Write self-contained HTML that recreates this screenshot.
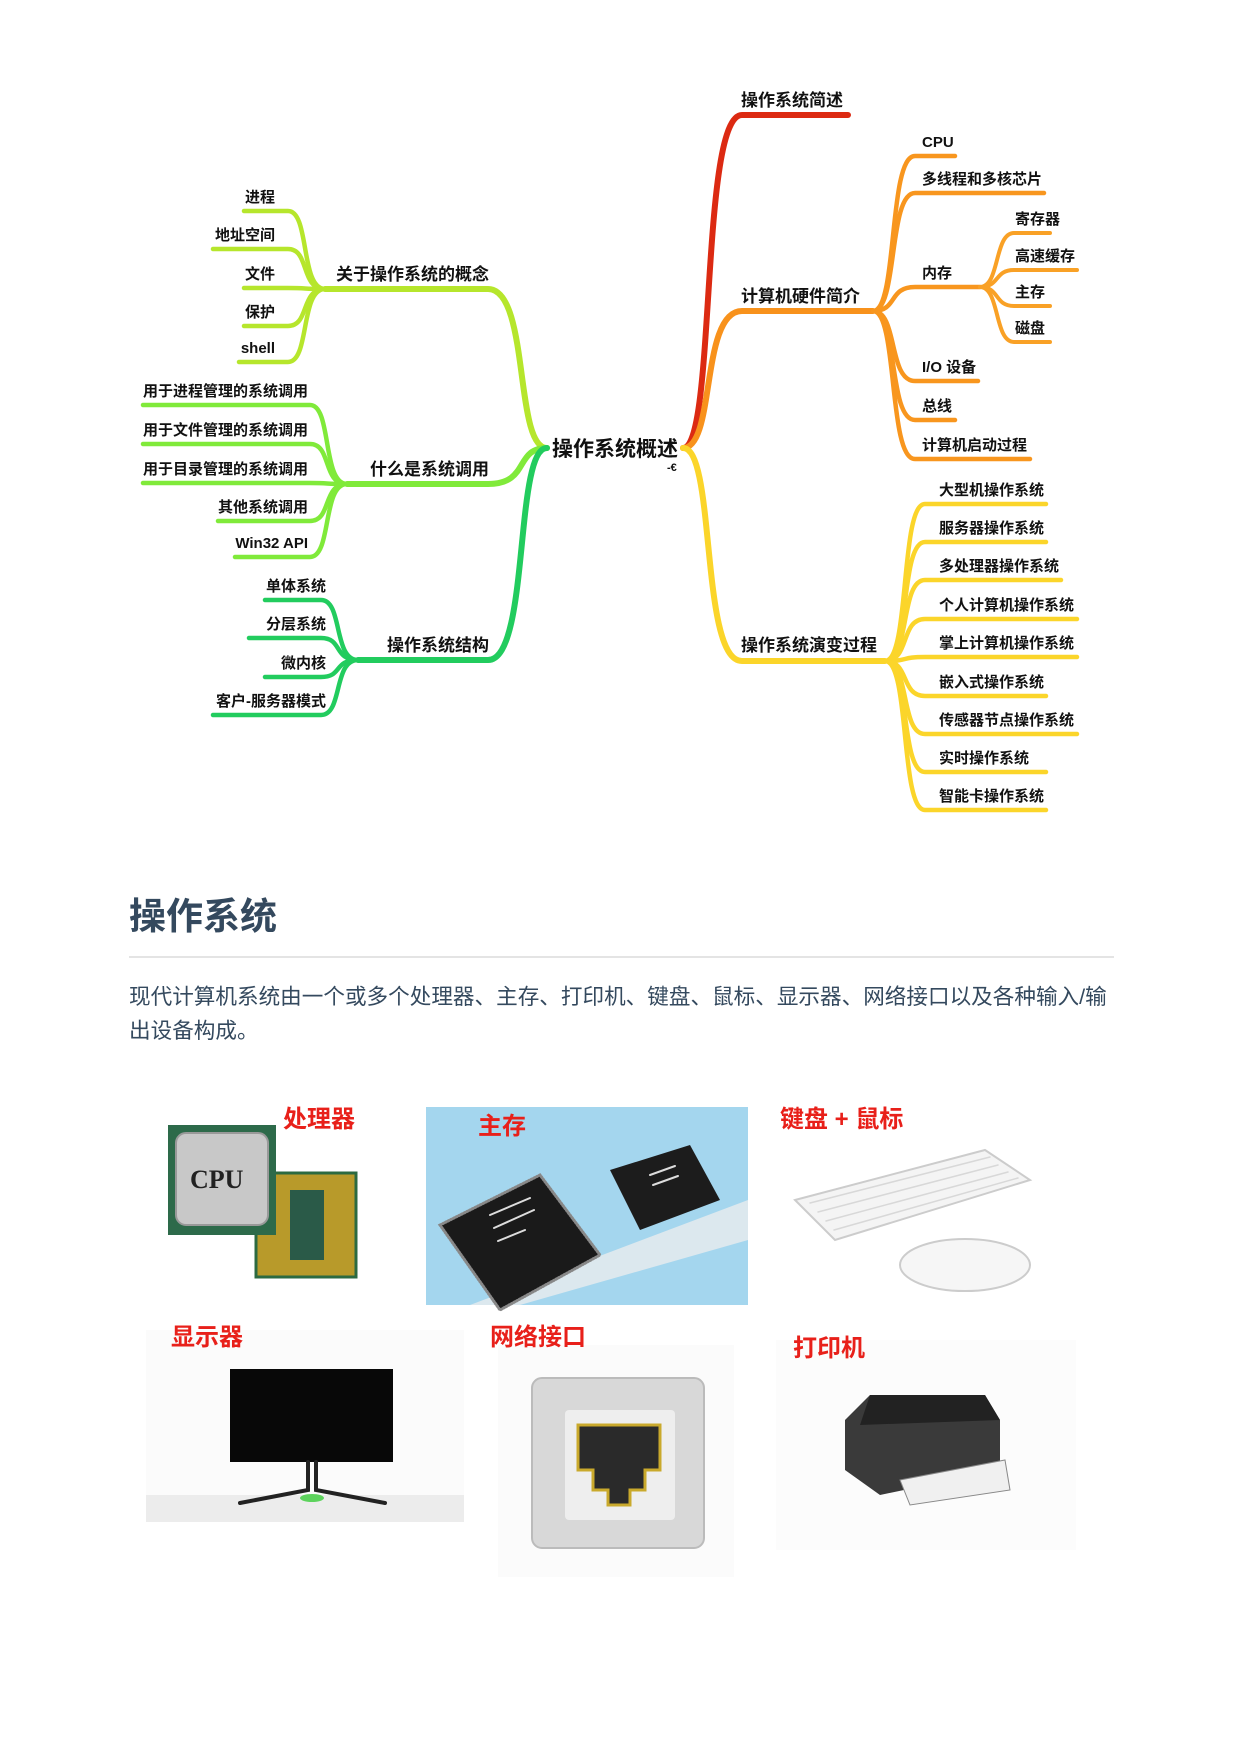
<!DOCTYPE html>
<html><head><meta charset="utf-8">
<style>
html,body{margin:0;padding:0;background:#fff;}
body{width:1240px;height:1754px;position:relative;overflow:hidden;font-family:"Liberation Sans","Noto Sans CJK SC",sans-serif;}
svg{position:absolute;left:0;top:0;}
.t{font-family:"Liberation Sans","Noto Sans CJK SC",sans-serif;font-weight:bold;fill:#111;font-size:15px;}
.m{font-size:17px;}
.r{font-family:"Liberation Sans","Noto Sans CJK SC",sans-serif;font-weight:bold;fill:#e8201a;font-size:24px;}
h1{position:absolute;left:129px;top:886px;margin:0;font-size:37px;font-weight:bold;color:#34495e;font-family:"Liberation Sans","Noto Sans CJK SC",sans-serif;}
.hr{position:absolute;left:129px;top:956px;width:985px;height:2px;background:#e4e4e4;}
p{position:absolute;left:129px;top:980px;width:990px;margin:0;font-size:21.6px;line-height:34px;color:#34495e;font-family:"Liberation Sans","Noto Sans CJK SC",sans-serif;}
</style></head><body>
<svg width="1240" height="1754" viewBox="0 0 1240 1754" fill="none" stroke-linecap="round">
<g stroke-width="6">
<path d="M683 448 C716 448 700 115 742 115 H848" stroke="#dc2a12"/>
<path d="M683 448 C716 448 700 311 742 311 H873" stroke="#f8921c"/>
<path d="M683 448 C716 448 700 661 742 661 H885" stroke="#fbd52a"/>
<path d="M547 448 C514 448 530 289 488 289 H325" stroke="#b6e62c"/>
<path d="M547 448 C514 448 530 484 488 484 H347" stroke="#80ea3a"/>
<path d="M547 448 C514 448 530 660 488 660 H358" stroke="#22cc5e"/>
</g>
<g stroke="#f8961e" stroke-width="4.5">
<path d="M873 311 C898 311 888 156 915 156 H955"/>
<path d="M873 311 C898 311 888 193 915 193 H1044"/>
<path d="M873 311 C898 311 888 287 915 287 H980"/>
<path d="M873 311 C898 311 888 381 915 381 H978"/>
<path d="M873 311 C898 311 888 420 915 420 H955"/>
<path d="M873 311 C898 311 888 459 915 459 H1030"/>
</g>
<g stroke="#f9a126" stroke-width="4">
<path d="M980 287 C1000 287 994 233 1014 233 H1050"/>
<path d="M980 287 C1000 287 994 270 1014 270 H1077"/>
<path d="M980 287 C1000 287 994 306 1014 306 H1050"/>
<path d="M980 287 C1000 287 994 342 1014 342 H1050"/>
</g>
<g stroke="#fbd52a" stroke-width="4.5">
<path d="M885 661 C910 661 900 504 925 504 H1046"/>
<path d="M885 661 C910 661 900 542 925 542 H1046"/>
<path d="M885 661 C910 661 900 580 925 580 H1061"/>
<path d="M885 661 C910 661 900 619 925 619 H1077"/>
<path d="M885 661 C910 661 900 657 925 657 H1077"/>
<path d="M885 661 C910 661 900 696 925 696 H1046"/>
<path d="M885 661 C910 661 900 734 925 734 H1077"/>
<path d="M885 661 C910 661 900 772 925 772 H1046"/>
<path d="M885 661 C910 661 900 810 925 810 H1046"/>
</g>
<g stroke="#b6e62c" stroke-width="4.5">
<path d="M325 289 C300 289 310 211 288 211 H244"/>
<path d="M325 289 C300 289 310 249 288 249 H213"/>
<path d="M325 289 C300 289 310 288 288 288 H244"/>
<path d="M325 289 C300 289 310 326 288 326 H244"/>
<path d="M325 289 C300 289 310 362 288 362 H239"/>
</g>
<g stroke="#80ea3a" stroke-width="4.5">
<path d="M347 484 C322 484 332 405 310 405 H143"/>
<path d="M347 484 C322 484 332 444 310 444 H143"/>
<path d="M347 484 C322 484 332 483 310 483 H143"/>
<path d="M347 484 C322 484 332 521 310 521 H218"/>
<path d="M347 484 C322 484 332 557 310 557 H235"/>
</g>
<g stroke="#22cc5e" stroke-width="4.5">
<path d="M358 660 C333 660 343 600 321 600 H265"/>
<path d="M358 660 C333 660 343 638 321 638 H249"/>
<path d="M358 660 C333 660 343 677 321 677 H265"/>
<path d="M358 660 C333 660 343 715 321 715 H213"/>
</g>
<text x="552" y="456" class="t" style="font-size:21px">操作系统概述</text>
<text x="667" y="471" class="t" style="font-size:11px">-€</text>
<text x="741" y="106" class="t m">操作系统简述</text>
<text x="741" y="302" class="t m">计算机硬件简介</text>
<text x="741" y="651" class="t m">操作系统演变过程</text>
<text x="489" y="280" class="t m" text-anchor="end">关于操作系统的概念</text>
<text x="489" y="475" class="t m" text-anchor="end">什么是系统调用</text>
<text x="489" y="651" class="t m" text-anchor="end">操作系统结构</text>
<g class="t">
<text x="922" y="147">CPU</text>
<text x="922" y="184">多线程和多核芯片</text>
<text x="922" y="278">内存</text>
<text x="922" y="372">I/O 设备</text>
<text x="922" y="411">总线</text>
<text x="922" y="450">计算机启动过程</text>
<text x="1015" y="224">寄存器</text>
<text x="1015" y="261">高速缓存</text>
<text x="1015" y="297">主存</text>
<text x="1015" y="333">磁盘</text>
<text x="939" y="495">大型机操作系统</text>
<text x="939" y="533">服务器操作系统</text>
<text x="939" y="571">多处理器操作系统</text>
<text x="939" y="610">个人计算机操作系统</text>
<text x="939" y="648">掌上计算机操作系统</text>
<text x="939" y="687">嵌入式操作系统</text>
<text x="939" y="725">传感器节点操作系统</text>
<text x="939" y="763">实时操作系统</text>
<text x="939" y="801">智能卡操作系统</text>
</g>
<g class="t" text-anchor="end">
<text x="275" y="202">进程</text>
<text x="275" y="240">地址空间</text>
<text x="275" y="279">文件</text>
<text x="275" y="317">保护</text>
<text x="275" y="353">shell</text>
<text x="308" y="396">用于进程管理的系统调用</text>
<text x="308" y="435">用于文件管理的系统调用</text>
<text x="308" y="474">用于目录管理的系统调用</text>
<text x="308" y="512">其他系统调用</text>
<text x="308" y="548">Win32 API</text>
<text x="326" y="591">单体系统</text>
<text x="326" y="629">分层系统</text>
<text x="326" y="668">微内核</text>
<text x="326" y="706">客户-服务器模式</text>
</g>

<!-- CPU -->
<rect x="256" y="1173" width="100" height="104" fill="#b89a2a" stroke="#2c6a40" stroke-width="3"/>
<rect x="290" y="1190" width="34" height="70" fill="#2a5a48"/>
<rect x="168" y="1125" width="108" height="110" fill="#2d6a4a"/>
<rect x="176" y="1133" width="92" height="92" rx="10" fill="#c8c8c8" stroke="#999" stroke-width="2"/>
<text x="190" y="1188" style="font-family:'Liberation Serif',serif;font-weight:bold;font-size:26px;fill:#222">CPU</text>
<!-- RAM -->
<rect x="426" y="1107" width="322" height="198" fill="#a4d6ee"/>
<path d="M470 1305 L748 1200 L748 1240 L520 1305 Z" fill="#dce8ee"/>
<path d="M440 1225 L540 1175 L600 1255 L500 1310 Z" fill="#1a1a1a" stroke="#888" stroke-width="3" stroke-dasharray="1 2"/>
<path d="M610 1170 L690 1145 L720 1200 L640 1230 Z" fill="#1c1c1c"/>
<g stroke="#ddd" stroke-width="2"><path d="M490 1215 L530 1198 M494 1228 L534 1210 M498 1241 L525 1230"/><path d="M650 1175 L675 1166 M653 1185 L678 1176"/></g>
<!-- keyboard -->
<path d="M795 1200 L985 1150 L1030 1180 L835 1240 Z" fill="#f4f4f4" stroke="#ccc" stroke-width="2"/>
<g stroke="#d8d8d8" stroke-width="1.5"><path d="M810 1203 L990 1157 M818 1212 L998 1165 M826 1221 L1008 1172 M834 1230 L1018 1178"/></g>
<ellipse cx="965" cy="1265" rx="65" ry="26" fill="#f6f6f6" stroke="#ccc" stroke-width="2"/>
<!-- monitor -->
<rect x="146" y="1330" width="318" height="192" fill="#fbfbfb"/>
<rect x="146" y="1495" width="318" height="27" fill="#ececec"/>
<rect x="230" y="1369" width="163" height="93" fill="#080808"/>
<path d="M308 1462 L308 1490 L240 1503 M316 1462 L316 1490 L385 1503" stroke="#222" stroke-width="4"/>
<ellipse cx="312" cy="1498" rx="12" ry="4" fill="#5dd35d"/>
<!-- network -->
<rect x="498" y="1345" width="236" height="232" fill="#fbfbfb"/>
<rect x="532" y="1378" width="172" height="170" rx="10" fill="#d8d8d8" stroke="#bbb" stroke-width="2"/>
<rect x="565" y="1410" width="110" height="110" rx="4" fill="#eeeeee"/>
<path d="M578 1425 H660 V1470 H645 V1490 H630 V1505 H608 V1490 H593 V1470 H578 Z" fill="#2a2a2a" stroke="#c9a92c" stroke-width="3"/>
<!-- printer -->
<rect x="776" y="1340" width="300" height="210" fill="#fcfcfc"/>
<path d="M845 1420 L870 1395 L985 1395 L1000 1420 L1000 1470 L880 1495 L845 1470 Z" fill="#3a3a3a"/>
<path d="M870 1395 L985 1395 L1000 1420 L860 1425 Z" fill="#222"/>
<path d="M900 1480 L1005 1460 L1010 1490 L910 1505 Z" fill="#f0f0f0" stroke="#888" stroke-width="1"/>

<text x="283" y="1127" class="r">处理器</text>
<text x="478" y="1134" class="r">主存</text>
<text x="780" y="1127" class="r">键盘 + 鼠标</text>
<text x="171" y="1345" class="r">显示器</text>
<text x="490" y="1345" class="r">网络接口</text>
<text x="793" y="1356" class="r">打印机</text>
</svg>
<h1>操作系统</h1>
<div class="hr"></div>
<p>现代计算机系统由一个或多个处理器、主存、打印机、键盘、鼠标、显示器、网络接口以及各种输入/输出设备构成。</p>
</body></html>
